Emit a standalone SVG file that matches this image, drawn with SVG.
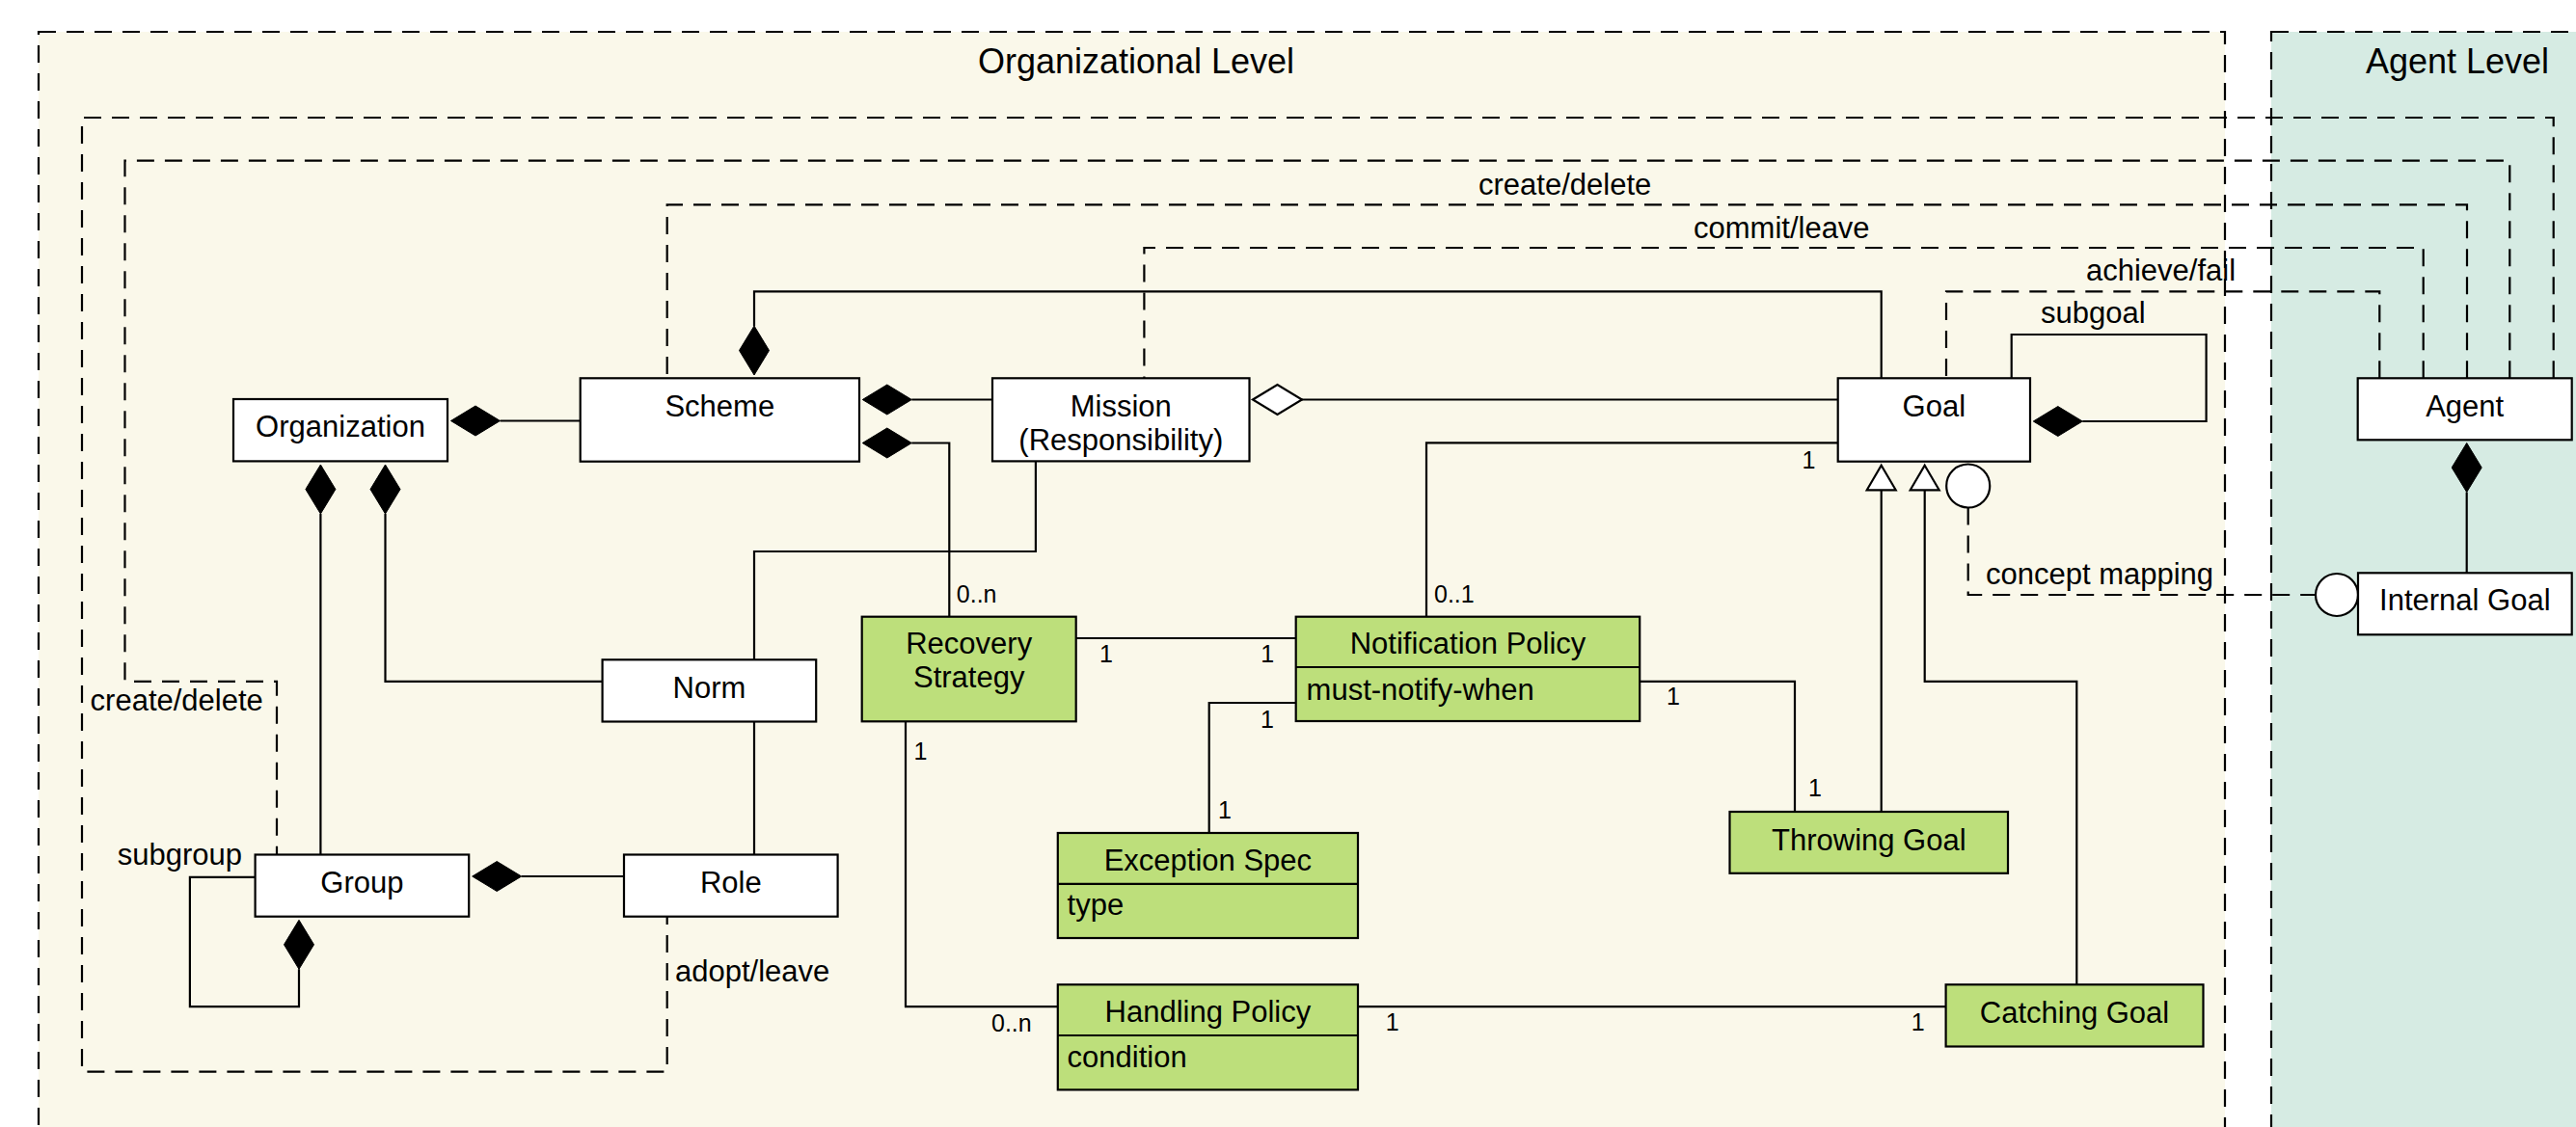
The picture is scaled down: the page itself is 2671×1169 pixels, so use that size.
<svg xmlns="http://www.w3.org/2000/svg" width="2671" height="1169" viewBox="0 0 2671 1169">
<style>
  .region { stroke: #000; stroke-width: 2.2; stroke-dasharray: 18 11; }
  .box { fill: #fff; stroke: #000; stroke-width: 2.2; }
  .gbox { fill: #bddf7b; stroke: #000; stroke-width: 2.2; }
  .line { fill: none; stroke: #000; stroke-width: 2.2; }
  .dash { fill: none; stroke: #000; stroke-width: 2.2; stroke-dasharray: 18 11; }
  .fd { fill: #000; stroke: #000; stroke-width: 1; }
  .hd { fill: #fff; stroke: #000; stroke-width: 2.2; }
  text { font-family: "Liberation Sans", Arial, sans-serif; fill: #000; }
  .t { font-size: 31px; }
  .c { text-anchor: middle; }
  .m { font-size: 25px; }
  .title { font-size: 36px; text-anchor: middle; }
</style>
<rect x="0" y="0" width="2671" height="1169" fill="#fff"/>
<g id="org-level">
  <rect class="region" x="40" y="33" width="2267" height="1200" fill="#faf8ea"/>
  <text class="title" x="1178" y="76">Organizational Level</text>
</g>
<g id="agent-level">
  <rect class="region" x="2355" y="33" width="400" height="1200" fill="#d6ebe3"/>
  <text class="title" x="2548" y="76">Agent Level</text>
</g>
<g id="connectors">
  <!-- dashed agent interactions -->
  <polyline class="dash" points="2647.7,392.3 2647.7,122 85,122 85,1111.6 691.7,1111.6 691.7,950.7"/>
  <polyline class="dash" points="2602.3,392.3 2602.3,166.7 129.5,166.7 129.5,706.8 287,706.8 287,886.5"/>
  <polyline class="dash" points="2558,392.3 2558,212.3 691.7,212.3 691.7,392.3"/>
  <polyline class="dash" points="2512.7,392.3 2512.7,257 1186.4,257 1186.4,392.3"/>
  <polyline class="dash" points="2467.3,392.3 2467.3,302.3 2018,302.3 2018,392.3"/>
  <polyline class="dash" points="2040.7,526.5 2040.7,617 2401,617"/>
  <text class="t" x="1533" y="202.3">create/delete</text>
  <text class="t" x="1756" y="246.7">commit/leave</text>
  <text class="t" x="2163" y="291">achieve/fail</text>
  <text class="t" x="2059" y="605.9">concept mapping</text>
  <text class="t" x="93.6" y="736.6">create/delete</text>
  <text class="t" x="700" y="1017.6">adopt/leave</text>

  <!-- Organization - Scheme -->
  <line class="line" x1="518.5" y1="436.5" x2="601.7" y2="436.5"/>
  <polygon class="fd" points="467.5,436.5 493,421 518.5,436.5 493,452"/>
  <!-- Scheme - Mission -->
  <line class="line" x1="945.3" y1="414.5" x2="1029" y2="414.5"/>
  <polygon class="fd" points="894.3,414.5 919.8,399 945.3,414.5 919.8,430"/>
  <!-- Scheme - Recovery -->
  <polyline class="line" points="945.3,459.5 984.3,459.5 984.3,639.7"/>
  <polygon class="fd" points="894.3,459.5 919.8,444 945.3,459.5 919.8,475"/>
  <text class="m" x="991.8" y="625">0..n</text>
  <!-- Goal - Scheme -->
  <polyline class="line" points="782,338 782,302.3 1950.7,302.3 1950.7,392.3"/>
  <polygon class="fd" points="782,389 766.5,363.5 782,338 797.5,363.5"/>
  <!-- Mission - Goal (aggregation) -->
  <line class="line" x1="1350" y1="414.5" x2="1905.7" y2="414.5"/>
  <polygon class="hd" points="1299,414.5 1324.5,399 1350,414.5 1324.5,430"/>
  <!-- Mission - Norm -->
  <polyline class="line" points="1073.9,478.4 1073.9,572 782,572 782,684.3"/>
  <!-- Organization - Group -->
  <line class="line" x1="332.4" y1="533" x2="332.4" y2="886.5"/>
  <polygon class="fd" points="332.4,482 347.9,507.5 332.4,533 316.9,507.5"/>
  <!-- Organization - Norm -->
  <polyline class="line" points="399.5,533 399.5,706.8 624.6,706.8"/>
  <polygon class="fd" points="399.5,482 415,507.5 399.5,533 384,507.5"/>
  <!-- Norm - Role -->
  <line class="line" x1="782" y1="748.5" x2="782" y2="886.5"/>
  <!-- Group - Role -->
  <line class="line" x1="540.7" y1="909" x2="647" y2="909"/>
  <polygon class="fd" points="489.7,909 515.2,893.5 540.7,909 515.2,924.5"/>
  <!-- Group subgroup -->
  <polyline class="line" points="264.6,909.9 196.9,909.9 196.9,1044.2 310,1044.2 310,1005.3"/>
  <polygon class="fd" points="310,954.3 325.5,979.8 310,1005.3 294.5,979.8"/>
  <text class="t" x="121.7" y="897">subgroup</text>
  <!-- Goal subgoal -->
  <polyline class="line" points="2085.7,392.3 2085.7,347 2287.6,347 2287.6,437 2159.3,437"/>
  <polygon class="fd" points="2108.3,437 2133.8,421.5 2159.3,437 2133.8,452.5"/>
  <text class="t" x="2116" y="335">subgoal</text>
  <!-- Recovery - Notification -->
  <line class="line" x1="1115.7" y1="662" x2="1343.7" y2="662"/>
  <text class="m" x="1140" y="687.3">1</text>
  <text class="m" x="1307.3" y="687.3">1</text>
  <!-- Notification - Goal -->
  <polyline class="line" points="1479,639.7 1479,459.3 1905.7,459.3"/>
  <text class="m" x="1487" y="625">0..1</text>
  <text class="m" x="1868.4" y="485.8">1</text>
  <!-- Notification - Throwing -->
  <polyline class="line" points="1700.2,706.8 1861,706.8 1861,842"/>
  <text class="m" x="1728" y="731">1</text>
  <text class="m" x="1875" y="826">1</text>
  <!-- Notification - Exception -->
  <polyline class="line" points="1343.7,729 1253.7,729 1253.7,864"/>
  <text class="m" x="1307" y="755">1</text>
  <text class="m" x="1263" y="849">1</text>
  <!-- Recovery - Handling -->
  <polyline class="line" points="939,748.3 939,1044.2 1096.8,1044.2"/>
  <text class="m" x="947.6" y="788.4">1</text>
  <text class="m" x="1028" y="1070">0..n</text>
  <!-- Handling - Catching -->
  <line class="line" x1="1408" y1="1044.2" x2="2017.6" y2="1044.2"/>
  <text class="m" x="1436.7" y="1069">1</text>
  <text class="m" x="1981.7" y="1069">1</text>
  <!-- Throwing - Goal generalization -->
  <line class="line" x1="1950.7" y1="842" x2="1950.7" y2="508.3"/>
  <polygon class="hd" points="1950.7,482.7 1965.7,508.3 1935.7,508.3"/>
  <!-- Catching - Goal generalization -->
  <polyline class="line" points="2153.3,1021.3 2153.3,706.8 1995.7,706.8 1995.7,508.3"/>
  <polygon class="hd" points="1995.7,482.7 2010.7,508.3 1980.7,508.3"/>
  <!-- Agent - Internal Goal -->
  <line class="line" x1="2557.7" y1="510.5" x2="2557.7" y2="594.3"/>
  <polygon class="fd" points="2557.7,459.5 2573.2,485 2557.7,510.5 2542.2,485"/>
  <!-- concept mapping interfaces -->
  <circle class="hd" cx="2040.7" cy="504" r="22.5"/>
  <circle class="hd" cx="2423" cy="617" r="22"/>
</g>
<g id="organization">
  <rect class="box" x="242" y="414" width="222" height="64.4"/>
  <text class="t c" x="353" y="453">Organization</text>
</g>
<g id="scheme">
  <rect class="box" x="601.7" y="392.3" width="289.3" height="86.4"/>
  <text class="t c" x="746.3" y="431.7">Scheme</text>
</g>
<g id="mission">
  <rect class="box" x="1029" y="392.3" width="266.5" height="86.1"/>
  <text class="t c" x="1162.3" y="431.7">Mission</text>
  <text class="t c" x="1162.3" y="466.7">(Responsibility)</text>
</g>
<g id="goal">
  <rect class="box" x="1905.7" y="392.3" width="199.3" height="86.4"/>
  <text class="t c" x="2005.3" y="431.7">Goal</text>
</g>
<g id="agent">
  <rect class="box" x="2444.7" y="392.3" width="222" height="64"/>
  <text class="t c" x="2555.7" y="431.7">Agent</text>
</g>
<g id="internal-goal">
  <rect class="box" x="2445" y="594.3" width="221.7" height="64"/>
  <text class="t c" x="2555.8" y="633.3">Internal Goal</text>
</g>
<g id="norm">
  <rect class="box" x="624.6" y="684.3" width="221.6" height="64.2"/>
  <text class="t c" x="735.4" y="723.8">Norm</text>
</g>
<g id="group">
  <rect class="box" x="264.6" y="886.5" width="221.6" height="64.2"/>
  <text class="t c" x="375.4" y="926">Group</text>
</g>
<g id="role">
  <rect class="box" x="647" y="886.5" width="221.6" height="64.2"/>
  <text class="t c" x="757.8" y="926">Role</text>
</g>
<g id="recovery-strategy">
  <rect class="gbox" x="893.7" y="639.7" width="222" height="108.6"/>
  <text class="t c" x="1004.7" y="678.3">Recovery</text>
  <text class="t c" x="1004.7" y="713.3">Strategy</text>
</g>
<g id="notification-policy">
  <rect class="gbox" x="1343.7" y="639.7" width="356.5" height="108.3"/>
  <line class="line" x1="1343.7" y1="692" x2="1700.2" y2="692"/>
  <text class="t c" x="1522" y="678.3">Notification Policy</text>
  <text class="t" x="1354.6" y="726">must-notify-when</text>
</g>
<g id="exception-spec">
  <rect class="gbox" x="1096.8" y="864" width="311.2" height="109"/>
  <line class="line" x1="1096.8" y1="916.8" x2="1408" y2="916.8"/>
  <text class="t c" x="1252.4" y="903">Exception Spec</text>
  <text class="t" x="1106.6" y="949">type</text>
</g>
<g id="handling-policy">
  <rect class="gbox" x="1096.8" y="1021.3" width="311.2" height="109.1"/>
  <line class="line" x1="1096.8" y1="1074" x2="1408" y2="1074"/>
  <text class="t c" x="1252.4" y="1060">Handling Policy</text>
  <text class="t" x="1106.6" y="1106.6">condition</text>
</g>
<g id="throwing-goal">
  <rect class="gbox" x="1793.5" y="842" width="288.5" height="63.8"/>
  <text class="t c" x="1937.8" y="881.5">Throwing Goal</text>
</g>
<g id="catching-goal">
  <rect class="gbox" x="2017.6" y="1021.3" width="266.9" height="64.2"/>
  <text class="t c" x="2151" y="1061">Catching Goal</text>
</g>
</svg>
